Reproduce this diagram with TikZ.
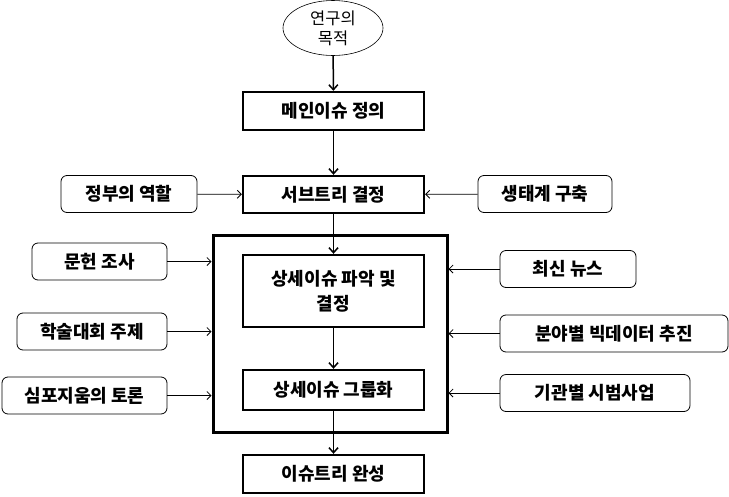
\documentclass[tikz,border=0pt]{standalone}
\usepackage{fontspec}
\setmainfont{Noto Sans CJK KR}
\usetikzlibrary{arrows.meta,shapes.geometric}
\begin{document}
\begin{tikzpicture}[x=1pt,y=-1pt,
  mainbox/.style={draw,line width=2.4pt,minimum width=181pt,inner sep=0pt,font=\bfseries\fontsize{18}{25}\selectfont,align=center},
  sidebox/.style={draw,line width=0.8pt,rounded corners=6pt,inner sep=0pt,font=\bfseries\fontsize{18}{22}\selectfont,minimum height=37pt},
  mainarrow/.style={line width=1.5pt,-{Straight Barb[length=5pt,width=9pt,line width=1.5pt]}},
  sidearrow/.style={line width=0.8pt,-{Straight Barb[length=4pt,width=8pt,line width=0.8pt]}}]
\useasboundingbox (0,0) rectangle (729,496);
\node[draw,ellipse,line width=0.6pt,minimum width=100pt,minimum height=55pt,inner sep=0pt,align=center,font=\fontsize{16.5}{20}\selectfont] (goal) at (333,28) {연구의\\목적};
\node[mainbox,minimum height=38pt] (main) at (333.5,111) {메인이슈 정의};
\node[mainbox,minimum height=37pt] (sub) at (333.5,194.5) {서브트리 결정};
\node[draw,line width=3pt,minimum width=234pt,minimum height=197pt,inner sep=0pt] (frame) at (330,333.5) {};
\node[mainbox,minimum height=72pt] (detail) at (333.5,291) {상세이슈 파악 및\\결정};
\node[mainbox,minimum height=40pt] (group) at (333.5,390) {상세이슈 그룹화};
\node[mainbox,minimum height=38pt] (done) at (333.5,474) {이슈트리 완성};
\node[sidebox,minimum width=136pt] (gov) at (129,194) {정부의 역할};
\node[sidebox,minimum width=134pt] (eco) at (545,194) {생태계 구축};
\node[sidebox,minimum width=135pt] (lit) at (99.5,261.5) {문헌 조사};
\node[sidebox,minimum width=150pt] (conf) at (92,331.5) {학술대회 주제};
\node[sidebox,minimum width=165pt] (sym) at (84.5,395.5) {심포지움의 토론};
\node[sidebox,minimum width=136pt] (news) at (568,269) {최신 뉴스};
\node[sidebox,minimum width=228pt] (big) at (614,333.5) {분야별 빅데이터 추진};
\node[sidebox,minimum width=190pt] (pilot) at (595,393) {기관별 시범사업};
\draw[mainarrow] (goal) -- (main);
\draw[mainarrow] (main) -- (sub);
\draw[mainarrow] (sub) -- (detail);
\draw[mainarrow] (detail) -- (group);
\draw[mainarrow] (group) -- (done);
\draw[sidearrow] (gov) -- (sub);
\draw[sidearrow] (eco) -- (sub);
\draw[sidearrow] (lit) -- (lit -| frame.west);
\draw[sidearrow] (conf) -- (conf -| frame.west);
\draw[sidearrow] (sym) -- (sym -| frame.west);
\draw[sidearrow] (news) -- (news -| frame.east);
\draw[sidearrow] (big) -- (big -| frame.east);
\draw[sidearrow] (pilot) -- (pilot -| frame.east);
\end{tikzpicture}
\end{document}
